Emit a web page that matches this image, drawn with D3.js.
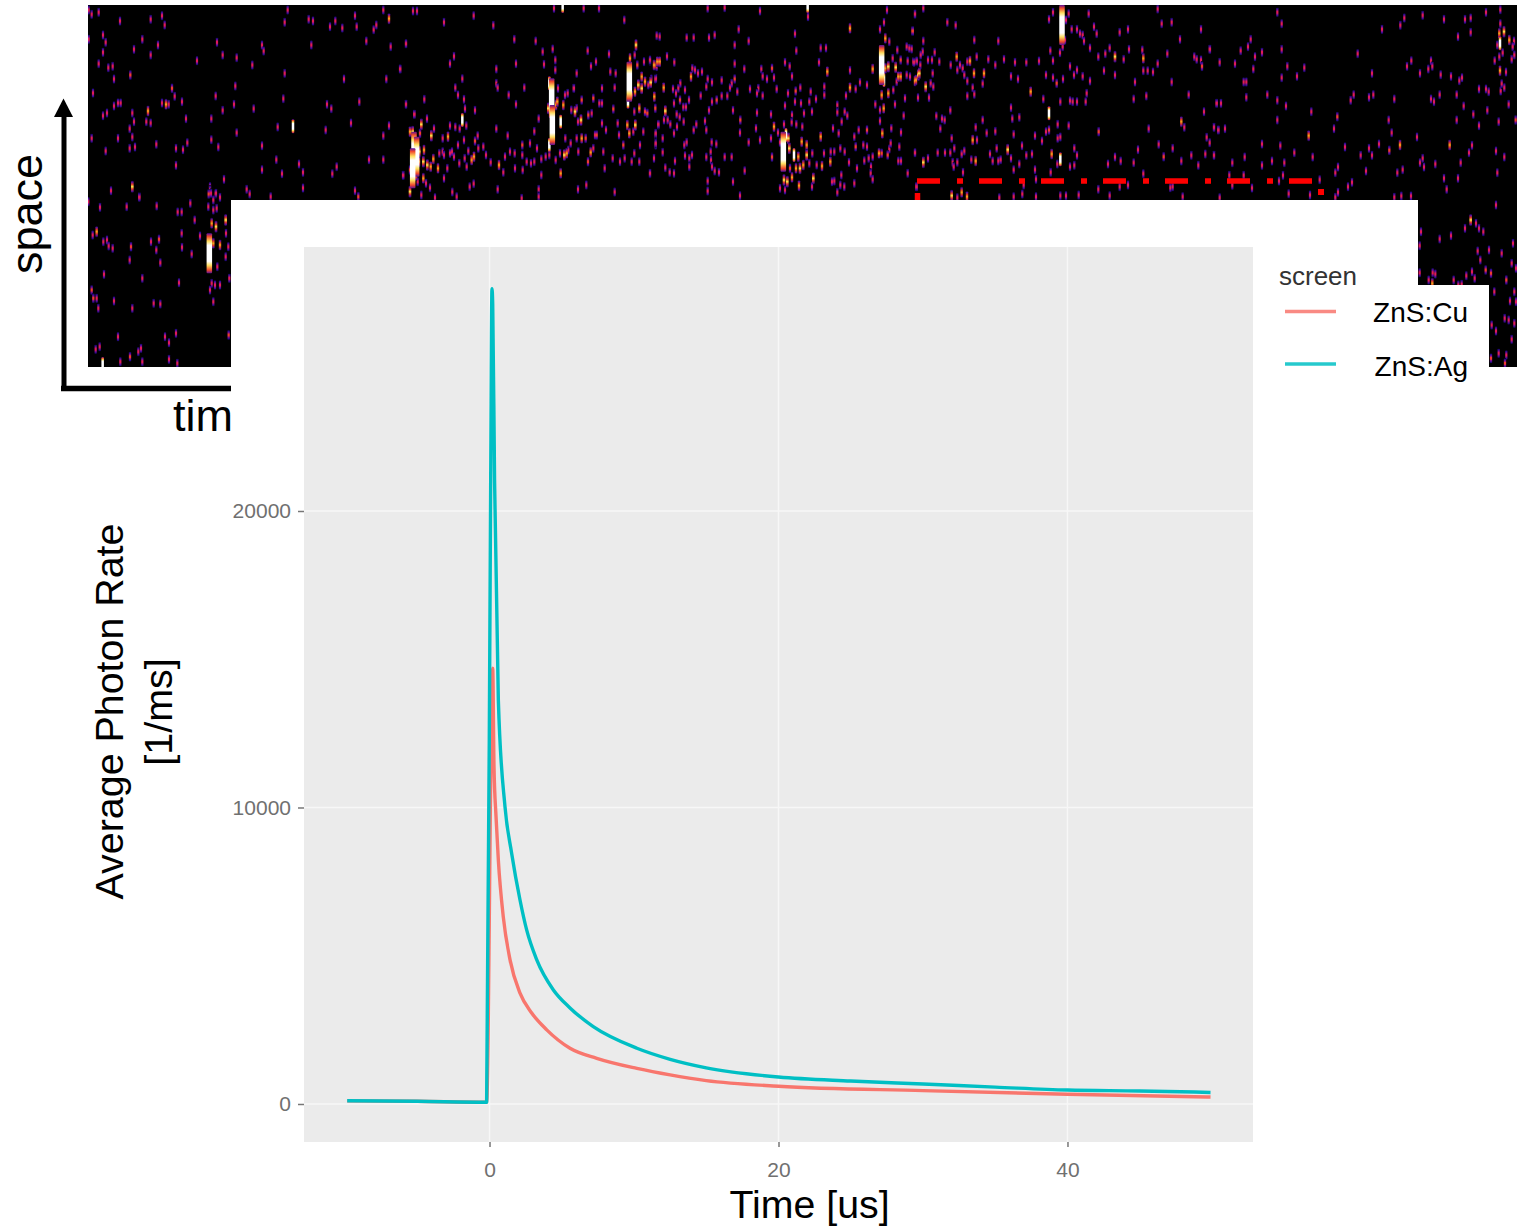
<!DOCTYPE html>
<html>
<head>
<meta charset="utf-8">
<script src="https://cdn.jsdelivr.net/npm/d3@7"></script>
<style>
  html, body { margin: 0; padding: 0; background: #fff; }
  svg { display: block; font-family: "Liberation Sans", Arial, sans-serif; }
</style>
</head>
<body>
<svg width="1517" height="1227"></svg>
<script>
// decay curves, time in us, rate in 1/ms
let timeCu = [-9.85, -5, -0.2, 0.17, 0.22, 0.31, 0.45, 0.61, 0.95, 1.42, 2.11, 2.92, 3.96, 5.57, 7.42, 10.2, 12.5, 15, 20, 30, 40, 49.9];
let rateCu = [105, 90, 60, 14000, 14700, 11370, 9690, 8230, 6320, 4860, 3740, 3070, 2500, 1880, 1540, 1200, 980, 790, 600, 450, 330, 235];
let timeAg = [-9.85, -5, -0.2, 0.08, 0.17, 0.22, 0.35, 0.61, 1.07, 1.53, 2.11, 2.57, 3.27, 4.42, 5.57, 7.18, 10.2, 12.5, 15, 20, 25, 30, 35, 40, 45, 49.9];
let rateAg = [110, 90, 60, 21000, 27500, 27000, 21000, 13625, 10030, 8460, 6880, 5870, 4860, 3845, 3240, 2610, 1880, 1507, 1220, 910, 775, 675, 570, 470, 440, 390];

let xTicks = [0, 20, 40];
let yTicks = [0, 10000, 20000];
let screens = ["ZnS:Cu", "ZnS:Ag"];

// detector photons read strip by strip: [time, space, level], level 1 when left out
let photonsA = [[2,15],[11,28],[32,22],[96,48],[188,43],[222,32],[230,60],[45,90],[53,112],[2,103],[163,103],[210,120],[138,133],[45,142],[188,150],[32,176],[61,188],[74,184],[127,210,2],[78,222],[15,264],[252,250,2],[260,274],[282,290],[78,303],[90,294],[98,294],[222,294],[234,298,3],[242,298],[180,318,3],[133,324],[57,324],[45,332],[138,350],[175,350],[188,354],[294,341],[125,371],[133,396],[11,400],[90,400],[205,418],[298,413],[264,430],[285,434],[125,430],[141,426],[53,438],[264,481],[133,545,4],[69,557],[154,575],[387,112],[404,150],[446,158],[327,167],[370,341],[404,316],[383,273],[442,243],[438,298],[497,311],[370,404],[391,426],[446,383],[408,523],[366,545],[362,567,2],[383,567],[396,577],[476,553],[485,567],[548,575],[522,120],[527,138],[493,180],[590,205],[586,281],[569,366],[615,364,5],[522,422],[565,464],[522,494],[582,506],[633,477],[645,502],[645,549],[599,15],[590,52],[662,43],[675,48],[670,120],[726,65],[742,48],[763,69],[801,32],[806,65],[835,108],[857,74],[865,60],[886,15],[903,41,3],[908,125],[954,116],[937,192],[768,222],[895,222],[814,290],[717,298],[730,311],[954,298],[979,328],[789,354],[713,375],[903,362],[886,392],[843,464],[886,464],[746,485],[733,506],[945,511],[801,557],[811,575,2]];

let photonsB = [[39,18],[51,18],[132,52],[221,32],[280,61],[18,116],[162,154],[150,176],[0,192],[343,103],[407,108],[289,192],[348,176],[187,221],[166,248],[289,235],[293,248],[373,248],[174,270],[192,283],[326,270],[73,283],[18,298],[195,311],[225,316],[348,298],[43,328],[81,341],[187,345,5],[150,362],[166,366],[179,371],[199,362],[102,371],[289,371],[323,392],[233,392],[416,341],[403,379],
  [30,380,3],[38,380,4],[64,358,4],[94,392,4],[60,385,2],[42,440,6],[50,455,6],[38,490,6],[58,440,4],[72,435,3],[48,510,4],[30,560,4],[30,495,2],[70,470,4],[82,480,4],[92,485,3],[100,462,3],[57,470,3],[70,520,3],[78,535],[53,530],[10,511],[90,548],[64,570],[105,578],
  [114,490,3],[118,445],[128,400],[128,440],[132,450],[142,490],[132,520],[144,395,3],[150,445],[156,440],[162,455],[174,420],[178,475],[192,405],[194,460],[200,485],[205,438],[215,465,3],[222,455,3],[225,408,2],[235,430],[250,425],[258,450],[272,472],[297,480,3],[310,502],[315,455],[330,440],[344,445],[345,490],[367,420,2],[367,450],[380,470],[390,415],[393,475],[403,470],[368,495],[411,430],[424,462],[424,510],[437,455],[448,450],[157,561],[170,575],[209,545],[221,536],[293,553],[416,553],[416,575],[365,580],[534,553],[559,540],[644,561],[750,506],
  [448,235,5],[455,280,6],[457,360,6],[448,420,5],[445,310,4],[468,300,3],[472,290,3],[482,350,5],[490,300,3],[474,250],[495,270],[503,265],[522,250],[525,320,4],[514,315],[545,285,2],[543,345,4],[530,310],[534,350],[565,330,2],[575,325],[580,280,2],[598,295],[606,295],[606,250],[606,355],[590,390,2],[618,375],[610,440],[614,490],[638,460],[660,470],[674,460],[695,470],[703,445],[720,420],[718,470],[670,420,2],[640,312,2],[653,355],[657,390],[500,445,3],[505,435],[493,450,4],[480,445],[467,465],[482,505,3],[512,415],[496,400],[530,400],[545,400,3],[557,400,2],[535,440],[564,470,2],[572,442,3],[580,430],[585,390],[428,140],[458,132],[432,178],[466,165],[466,195],[530,205],[521,250],[563,137],[573,184],[588,170],[627,147],[631,200],[647,205],[644,248],[673,45],[462,10],[488,3,5],[551,10],[597,10],
  [688,230,6],[684,290,5],[690,160,3],[708,120,4],[704,150],[712,180,2],[732,170],[750,168],[762,180,3],[772,170,3],[778,170],[768,220],[725,215,3],[735,230,3],[752,232,4],[745,240],[715,240,4],[705,260,3],[725,250,4],[695,270],[718,310,3],[703,320],[735,320,2],[742,325,2],[706,360,4],[682,360,3],[688,385,3],[700,380],[730,380],[775,360],[767,390],[767,420]];

let photonsC = [[173,10],[224,8],[330,18],[473,3,5],[474,35],[711,15],[795,28],[702,52],[20,92],[29,95],[110,98],[131,98],[177,98],[194,90],[266,73],[296,108],[254,120],[600,70,3],[435,86],[690,73],[788,78,2],[439,137],[512,129],[528,129],[706,100,3],[51,154],[0,165],[13,180,3],[20,185],[29,170,3],[73,172],[254,176],[283,192],[127,190],[135,195],[144,205],[156,200],[123,215,3],[334,192],[366,190,2],[405,172],[419,184],[507,172],[532,200,3],[600,196],[426,214],[338,214],[351,222],[372,218],[254,222,2],[245,235],[173,222],[186,232],[215,226],[169,245],[91,235],[85,250],[41,248,3],[4,222],[16,222],[240,248],[300,252],[325,250],[380,252],[451,248],[437,258,2],[523,245],[482,260],[600,248,3],[617,252],[630,232],[651,240],[668,192,3],
  [13,275,3],[69,252],[78,265],[90,285,2],[105,255],[117,285],[72,295],[16,310,2],[100,306],[108,306],[152,272],[186,290],[200,285,2],[215,273],[232,273],[262,260],[321,265],[338,272],[414,265],[435,290],[453,295],[405,302],[478,290],[498,282],[523,270],[562,300],[588,272],[462,325],[486,320],[584,320],[592,332],[562,322],[249,316],[177,316],[46,318,4],[80,328],[89,336],[101,350],[42,345],[53,345],[61,358],[81,365],[25,358],[72,385],[131,375],[139,358],[165,348],[169,375],[271,345,2],[270,383],[321,323],[318,370],[363,328],[426,330],[439,358],[457,365],[372,365,3],[402,358],[425,352],[575,350],[549,370],[566,385],[626,375],[651,375,2],[724,370],[753,382],[690,348],[697,385,3],[761,332],[735,298],[701,310,3],[676,298],[690,315],
  [17,385],[38,400],[17,415],[103,420],[110,412],[185,412],[199,417],[296,412],[330,405],[363,400],[38,442],[12,460],[75,468],[105,452],[118,460],[126,450],[182,440],[169,456],[224,456],[245,456],[366,456,2],[183,465],[46,488],[59,502],[72,505],[118,485],[186,485],[194,498],[207,502],[284,497],[0,505],[173,528],[173,558],[249,530],[270,572],
  [400,440,6],[408,390,5],[415,400,4],[402,525,4],[412,530,4],[426,517,3],[418,430,4],[432,450,5],[445,455,3],[455,410,3],[470,420,3],[470,450,4],[460,480,3],[450,490,4],[438,490,3],[420,490,2],[390,412],[384,383],[478,475],[490,520,4],[447,542,3],[390,550],[405,555],[500,480],[487,445],[512,395,3],[522,445],[516,483,3],[542,440],[541,470,3],[553,440],[571,430],[584,440],[597,472],[617,425,2],[613,395],[651,425],[643,467],[656,460],[668,455],[687,445,3],[663,485],[662,505],[668,523],[621,490],[546,530],[553,528],[571,540],[574,510],[583,545],[613,535],[562,562],[486,545],[695,445,2],[713,450,2],[718,432],[722,415],[748,425],[745,468],[753,468],[795,443],[773,505],[800,545],[640,420],
  [695,180,6],[702,225,5],[706,190,3],[715,185,4],[737,187,4],[728,160],[742,135],[752,165,2],[770,125],[778,130],[773,168],[790,170],[800,170],[805,210,4],[795,228,3],[752,215,3],[745,215,3],[770,210],[740,230],[715,265,3],[730,255],[695,270,3],[765,280],[718,110]];

let photonsD = [[40,10],[15,27],[112,52],[137,61],[8,78,2],[40,108],[5,132],[38,140],[32,150],[74,142],[54,165],[66,165],[12,172],[20,168],[31,180],[88,170],[122,180],[140,155,3],[180,168,3],[172,170],[150,180],[158,190],[200,155],[235,163],[256,180],[282,163],[315,172],[349,172],[387,168],[193,105],[265,108],[0,215],[28,205,4],[18,225,3],[47,245,4],[62,235],[70,245],[68,205],[142,195],[163,210],[192,205,3],[222,205,3],[172,228],[218,236],[188,248],[303,214],[324,222],[362,260,3],[172,273],[193,268],[24,278],[57,278],[400,282],[408,210],[429,218],[440,235,2],[459,222],[480,184],[492,210],[501,195],[518,214],[540,228],[530,265],[527,290],[451,290],[480,287],[488,290],[501,290],[303,308],[121,316],[79,333],[96,341],[104,345],[91,371],[218,345],[197,367],[230,384],[256,379],[307,341],[328,337],[311,388],[417,325,5],[443,358],[417,375,2],[408,380],[476,362],[375,392],[396,408],[443,400],[451,396],[125,400],[188,405,3],[201,405],[336,422],[133,430],[15,443],[83,443],[105,443],[121,443],[155,447],[163,438],[240,447],[260,430],[293,434,4],[303,460],[366,447],[349,451],[425,447,3],[493,430],[501,451],[54,460],[40,472,4],[128,472],[131,485],[142,472],[184,464],[197,468,3],[248,468],[265,468],[272,464],[328,477],[311,494],[375,494],[451,463,5],[442,477],[480,485],[493,481],[422,502],[159,502],[378,523],[341,540],[19,545],[125,572,4],[155,562,3],[171,575,3],[142,578],[268,578],[311,575],[337,567],[378,575],[451,572],[468,572],[506,570],[565,553],[599,572],[629,545],[654,540],
  [417,43],[429,22],[456,60,6],[468,45],[476,26],[465,105],[458,125],[450,143],[421,137],[429,167],[485,73],[501,73],[510,86],[518,90],[522,108],[536,26],[552,65],[560,86],[540,129],[565,155],[586,146],[599,129],[615,155,4],[641,163],[657,133],[629,82],[654,73],[582,197],[615,210],[675,231],[671,282],[709,273],[697,135],[700,160,3],[700,197],[713,197],[729,201],[743,176],[772,146],[785,231],[836,269],[743,12],[755,56],[785,52],[810,103],[873,73],[899,133],[853,155],[860,163],[873,165],[876,184,2],[920,295],[882,320],[814,350,3],[823,367],[912,367],[925,375],[716,371],[890,397],[899,413],[566,380,2],[746,418],[684,434],[615,456],[632,468],[671,473],[594,477],[788,430],[761,455,2],[814,468],[844,451],[865,481],[886,447],[912,451],[700,506],[781,548],[788,545],[818,575]];

let photonsE = [[202,22],[215,56],[0,133],[92,137],[114,125],[122,103],[135,155],[156,142],[215,133],[29,172],[75,176],[130,192],[232,184],[283,188],[215,218],[261,214],[101,231],[109,231],[109,277],[172,269],[202,286],[228,303],[20,295],[33,295],[304,320],[202,345],[12,367],[25,375],[45,371],[382,335,2],[372,371],[296,392,3],[156,417],[211,422],[253,443],[308,456],[12,451],[104,456],[67,473],[156,481],[186,468],[223,473],[219,511],[101,511],[58,511],[67,541],[126,549],[207,528],[329,524],[384,486],[376,503],[405,426],[452,451],[477,430],[486,451],[507,417],[538,436,2],[570,420,3],[545,383],[536,345],[621,396],[719,420,3],[786,421],[777,443],[858,438],[883,456],[752,473],[676,477],[630,473],[638,460],[642,486],[468,498],[562,503],[578,494],[702,520],[744,520],[862,503],[426,532],[414,545],[384,562],[300,570],[236,566],[29,578],[710,553],[553,577],[574,573],[603,573],[376,577],
  [516,73],[571,61],[583,39],[638,31],[702,43],[765,43],[782,39],[782,82],[744,95],[828,22],[871,14],[871,56],[443,146],[486,205],[591,184],[604,167],[630,205],[655,192],[663,167],[667,184],[692,209],[723,214],[748,227],[756,218],[807,252],[828,252],[836,260],[872,258],[875,236],[883,248],[888,201],[870,197,3],[854,167],[868,155],[878,143],[870,115,5],[868,85,3],[882,80,4],[862,120],[898,105,3],[912,108],[908,125],[913,150],[905,163],[431,269],[422,286],[477,277],[490,269],[553,282],[663,282],[672,290],[689,269],[740,269],[761,303],[790,328],[832,316],[896,298],[740,345],[807,362],[866,350],[917,345,2]];

let photonsF = [[258,30],[182,75,4],[165,100],[198,85],[207,100],[220,110],[33,110],[89,132],[123,122],[309,145],[29,152],[203,168],[237,165],[275,175],[211,195],[305,205],[318,220],[227,225,2],[243,235,2],[186,230],[169,242],[194,250],[131,255],[29,233],[68,233],[76,237],[56,255],[289,255,2],[145,270],[155,268],[67,265,3],[253,290],[313,290],[300,318],[318,320],[284,370],[296,375],[313,385],[245,390],[258,408],[305,433],[243,490,2],[266,475],[289,480],[285,505,2]];

let photonsG = [[265,605],[300,622],[380,620],[418,592],[470,618],[533,636],[545,636],[571,610],[584,660],[630,570],[625,620],[640,600],[648,580],[290,695,3],[278,705],[310,725],[321,720],[326,738],[338,745],[393,740,2],[453,725],[477,718,2],[469,750],[545,700],[546,742],[600,708],[575,762],[389,780],[481,788],[312,823],[427,835],[537,848],[275,870,2],[280,895,2],[290,895],[295,925],[342,903],[397,925],[461,910],[481,912],[354,1010],[495,1010],[507,1028],[528,1000],[287,1048],[299,1040],[390,1070,2],[415,1055],[423,1045],[361,1085],[427,1085],[507,1078],[532,1090],[308,1092,5],[628,760,6],[635,670,3],[648,680,4],[677,660,4],[640,730,3],[660,735,3],[678,700],[685,740],[632,800,2],[652,800],[635,850],[645,855],[660,855],[630,870],[640,905],[677,770],[688,835],[686,1005,2],[650,625],[640,630],[633,580]];

// each strip: photon list, first frame, first row (photon coordinates are thirds of a frame)
let strips = [
  [photonsA, 0, 0], [photonsB, 312, 0], [photonsC, 562, 0], [photonsD, 822, 0],
  [photonsE, 1122, 0], [photonsF, 1322, 190], [photonsG, -88, -5]
];

let svg = d3.select("svg");
let defs = svg.append("defs");

// ---- detector image ----
let frameScale = d3.scaleLinear().domain([0, 1429]).range([88, 1517]);
let rowScale = d3.scaleLinear().domain([0, 362]).range([5, 367]);

let levelColor = [null, "#e01c58", "#ee3c30", "#f9a51a", "#fde84a", "#ffffff", "#ffffff"];
let levelWidth = [0, 2.2, 2.3, 2.4, 2.6, 2.5, 5.5];
let levelHeight = [0, 10, 10.5, 11, 12, 14, 40];

levelColor.forEach(function(c, i) {
  if (!c) return;
  let g = defs.append("linearGradient").attr("id", "level" + i)
    .attr("x1", 0).attr("x2", 0).attr("y1", 0).attr("y2", 1);
  let stops = [[0, "#000"], [0.14, "#2a0a90"], [0.3, "#8a1090"], [0.42, c], [0.58, c], [0.7, "#8a1090"], [0.86, "#2a0a90"], [1, "#000"]];
  if (i == 3 || i == 4) stops = [[0, "#120438"], [0.12, "#5a0f9c"], [0.3, "#e0342c"], [0.5, c], [0.7, "#e0342c"], [0.88, "#5a0f9c"], [1, "#120438"]];
  if (i >= 5) stops = [[0, "#5a0f9c"], [0.08, "#f0482c"], [0.2, "#ffe060"], [0.3, c], [0.7, c], [0.8, "#ffe060"], [0.92, "#f0482c"], [1, "#5a0f9c"]];
  g.selectAll("stop").data(stops).enter().append("stop")
    .attr("offset", d => d[0]).attr("stop-color", d => d[1]);
});

defs.append("clipPath").attr("id", "imageClip").append("rect")
  .attr("x", frameScale(0)).attr("y", rowScale(0))
  .attr("width", frameScale(1429) - frameScale(0)).attr("height", rowScale(362) - rowScale(0));

let photons = [];
strips.forEach(function(s) {
  s[0].forEach(function(p) {
    photons.push({ frame: s[1] + p[0] / 3, row: s[2] + p[1] / 3, level: p[2] || 1 });
  });
});
photons.sort((a, b) => a.level - b.level);

let image = svg.append("g").attr("clip-path", "url(#imageClip)");
image.append("rect")
  .attr("x", frameScale(0)).attr("y", rowScale(0))
  .attr("width", frameScale(1429) - frameScale(0)).attr("height", rowScale(362) - rowScale(0))
  .attr("fill", "#000");
image.selectAll("rect.photon").data(photons).enter().append("rect")
  .attr("class", "photon")
  .attr("x", d => frameScale(d.frame) - levelWidth[d.level] / 2)
  .attr("y", d => rowScale(d.row) - levelHeight[d.level] / 2)
  .attr("width", d => levelWidth[d.level])
  .attr("height", d => levelHeight[d.level])
  .attr("rx", 1)
  .attr("fill", d => "url(#level" + d.level + ")");

// space / time arrows
svg.append("path").attr("d", "M64,388 V115").attr("stroke", "#000").attr("stroke-width", 5).attr("fill", "none");
svg.append("path").attr("d", "M54,117 L63.5,98.5 L73,117 Z").attr("fill", "#000");
svg.append("path").attr("d", "M61,388.5 H240").attr("stroke", "#000").attr("stroke-width", 5.5).attr("fill", "none");
svg.append("text").attr("transform", "translate(42,274) rotate(-90)")
  .attr("font-size", 45).attr("fill", "#000").text("space");
svg.append("text").attr("x", 173).attr("y", 431)
  .attr("font-size", 45).attr("fill", "#000").text("time");

// the plot is pasted over the image
svg.append("rect").attr("x", 231).attr("y", 200).attr("width", 1187).attr("height", 1027).attr("fill", "#fff");
svg.append("rect").attr("x", 1418).attr("y", 285).attr("width", 71).attr("height", 82).attr("fill", "#fff");

// dash-dot box
svg.append("path").attr("d", "M917,181 H1313").attr("stroke", "#f00").attr("stroke-width", 5.5)
  .attr("stroke-dasharray", "23 17 6 16").attr("fill", "none");
svg.append("path").attr("d", "M917.5,193 V200").attr("stroke", "#f00").attr("stroke-width", 5.5);
svg.append("path").attr("d", "M1321,189 V195").attr("stroke", "#f00").attr("stroke-width", 6);

// ---- decay plot ----
let margin = { top: 247, right: 264, bottom: 85, left: 304 };
let plotWidth = 1517 - margin.left - margin.right;
let plotHeight = 1227 - margin.top - margin.bottom;

let x = d3.scaleLinear().domain([-12.84, 52.84]).range([0, plotWidth]);
let y = d3.scaleLinear().domain([-1282, 28904]).range([plotHeight, 0]);

let plot = svg.append("g").attr("id", "plot")
  .attr("transform", "translate(" + margin.left + "," + margin.top + ")");

plot.append("rect").attr("width", plotWidth).attr("height", plotHeight).attr("fill", "#ebebeb");

plot.selectAll("line.gx").data(xTicks).enter().append("line").attr("class", "gx")
  .attr("x1", d => x(d)).attr("x2", d => x(d)).attr("y1", 0).attr("y2", plotHeight)
  .attr("stroke", "#f7f7f7").attr("stroke-width", 1.5);
plot.selectAll("line.gy").data(yTicks).enter().append("line").attr("class", "gy")
  .attr("y1", d => y(d)).attr("y2", d => y(d)).attr("x1", 0).attr("x2", plotWidth)
  .attr("stroke", "#f7f7f7").attr("stroke-width", 1.5);

let xAxis = d3.axisBottom(x).tickValues(xTicks).tickSize(5).tickPadding(15).tickFormat(d3.format("d"));
let yAxis = d3.axisLeft(y).tickValues(yTicks).tickSize(6).tickPadding(7).tickFormat(d3.format("d"));
let xGroup = plot.append("g").attr("transform", "translate(0," + plotHeight + ")").call(xAxis);
let yGroup = plot.append("g").call(yAxis);
[xGroup, yGroup].forEach(function(g) {
  g.select(".domain").remove();
  g.selectAll("line").attr("stroke", "#777").attr("stroke-width", 1.5);
  g.selectAll("text").attr("fill", "#707070").attr("font-size", 21)
    .attr("font-family", "'Liberation Sans', Arial, sans-serif");
});

let line = d3.line().x(d => x(d[0])).y(d => y(d[1])).curve(d3.curveMonotoneX);
let colors = ["#F8766D", "#00BFC4"];
let curves = [d3.zip(timeCu, rateCu), d3.zip(timeAg, rateAg)];
plot.selectAll("path.curve").data(curves).enter().append("path")
  .attr("class", "curve")
  .attr("d", line).attr("fill", "none")
  .attr("stroke", (d, i) => colors[i]).attr("stroke-width", 3.4).attr("stroke-linejoin", "round");

// axis titles
svg.append("text").attr("x", 809.5).attr("y", 1218).attr("text-anchor", "middle")
  .attr("font-size", 39.3).attr("fill", "#000").text("Time [us]");
svg.append("text").attr("transform", "translate(123,711.5) rotate(-90)").attr("text-anchor", "middle")
  .attr("font-size", 39.4).attr("fill", "#000").text("Average Photon Rate");
svg.append("text").attr("transform", "translate(172,712) rotate(-90)").attr("text-anchor", "middle")
  .attr("font-size", 39.4).attr("fill", "#000").text("[1/ms]");

// legend
svg.append("text").attr("x", 1279).attr("y", 285).attr("font-size", 26).attr("fill", "#333").text("screen");
let legendY = d3.scalePoint().domain(screens).range([311.5, 364]);
let labelY = d3.scalePoint().domain(screens).range([322, 376]);
let legend = svg.selectAll("g.key").data(screens).enter().append("g").attr("class", "key");
legend.append("line")
  .attr("x1", 1285).attr("x2", 1336)
  .attr("y1", d => legendY(d)).attr("y2", d => legendY(d))
  .attr("stroke", (d, i) => colors[i]).attr("stroke-width", 3.4).attr("stroke-opacity", 0.85);
legend.append("text").attr("x", 1468).attr("y", d => labelY(d)).attr("text-anchor", "end")
  .attr("font-size", 28).attr("fill", "#000").text(d => d);
</script>
</body>
</html>
